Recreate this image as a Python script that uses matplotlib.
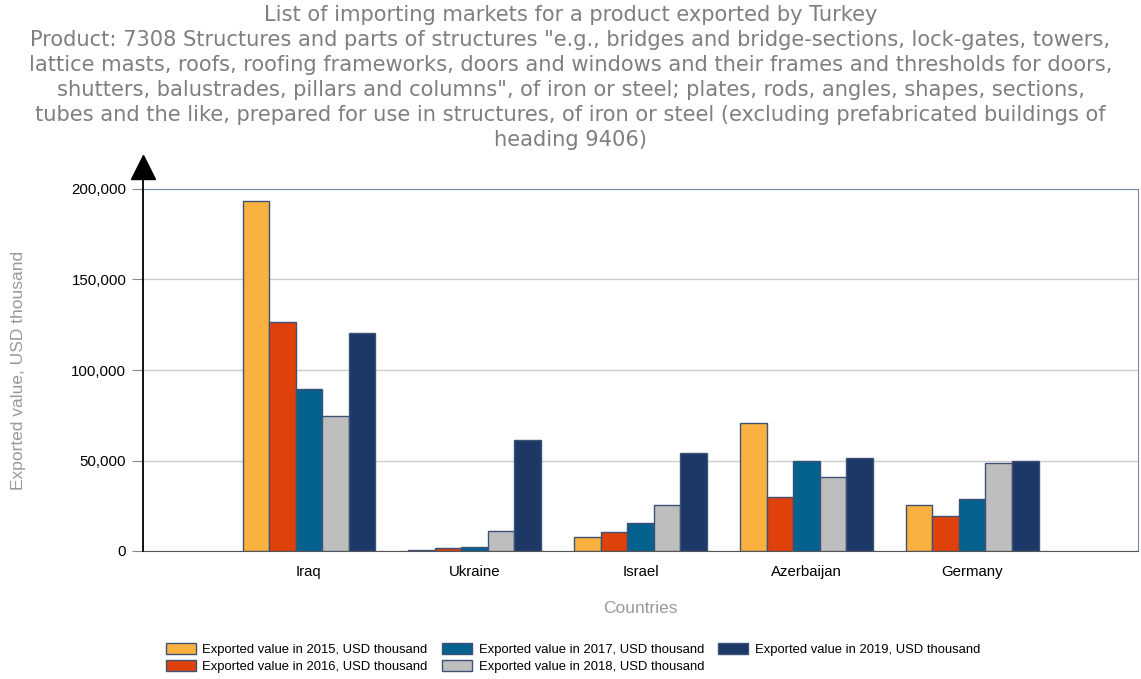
import matplotlib.pyplot as plt
import numpy as np
from matplotlib.ticker import FuncFormatter

# data (USD thousand)
countries = ['Iraq', 'Ukraine', 'Israel', 'Azerbaijan', 'Germany']
years = ['2015', '2016', '2017', '2018', '2019']
v2015 = [193300, 500, 7900, 70700, 25200]
v2016 = [126500, 1800, 10500, 29800, 19200]
v2017 = [89500, 2400, 15300, 49500, 28700]
v2018 = [74600, 10900, 25400, 40700, 48600]
v2019 = [120400, 61200, 54100, 51200, 49500]
series = [v2015, v2016, v2017, v2018, v2019]
colors = ['#F9B13F', '#DF410B', '#05628F', '#BEBEBE', '#1B3867']

title = ('List of importing markets for a product exported by Turkey\n'
         'Product: 7308 Structures and parts of structures "e.g., bridges and bridge-sections, lock-gates, towers,\n'
         'lattice masts, roofs, roofing frameworks, doors and windows and their frames and thresholds for doors,\n'
         'shutters, balustrades, pillars and columns", of iron or steel; plates, rods, angles, shapes, sections,\n'
         'tubes and the like, prepared for use in structures, of iron or steel (excluding prefabricated buildings of\n'
         'heading 9406)')

plt.rcParams['font.family'] = ['Liberation Sans', 'DejaVu Sans']

fig = plt.figure(figsize=(11.41, 6.79), dpi=100)
ax = fig.add_axes([143 / 1141, 1 - 551 / 679, 995 / 1141, 362 / 679])

x = np.arange(len(countries))
w = 0.16
for i, vals in enumerate(series):
    ax.bar(x + (i - 2) * w, vals, width=w, color=colors[i], edgecolor='#3D5275',
           linewidth=1, label='Exported value in %s, USD thousand' % years[i], zorder=3)

ax.set_xlim(-1, 5)
ax.set_ylim(0, 200000)
ax.set_yticks([0, 50000, 100000, 150000, 200000])
ax.yaxis.set_major_formatter(FuncFormatter(lambda v, p: '{:,.0f}'.format(v)))
ax.set_xticks(x)
ax.set_xticklabels(countries)
ax.tick_params(axis='y', length=8, color='#888888', labelsize=10.8, pad=4)
ax.tick_params(axis='x', length=0, labelsize=10.8, pad=10)
ax.grid(axis='y', color='#CCCCCC', linewidth=1, zorder=0)

ax.spines['top'].set_color('#7A8BA8')
ax.spines['right'].set_color('#7A8BA8')
ax.spines['bottom'].set_color('#555555')
ax.spines['left'].set_visible(False)
# left axis with arrow
ax.plot([0, 0], [0, 1.05], transform=ax.transAxes, color='black', lw=1.3, clip_on=False, zorder=5)
ax.plot([0], [1.06], transform=ax.transAxes, marker='^', markersize=17, color='black',
        clip_on=False, zorder=5)

ax.set_xlabel('Countries', color='#999999', fontsize=12.5, labelpad=16)
ax.set_ylabel('Exported value, USD thousand', color='#999999', fontsize=12.5, labelpad=33)

fig.suptitle(title, x=0.5, y=1 - 5 / 679, fontsize=15.1, color='#7F7F7F', family='DejaVu Sans',
             linespacing=1.31, va='top')

ax.legend(loc='center', bbox_to_anchor=(573 / 1141, 1 - 658 / 679), bbox_transform=fig.transFigure,
          ncol=3, frameon=False, fontsize=9.4, handlelength=2.3, handleheight=0.9,
          columnspacing=1.1, handletextpad=0.5, labelspacing=0.35)

fig.savefig('out.png', dpi=100)
